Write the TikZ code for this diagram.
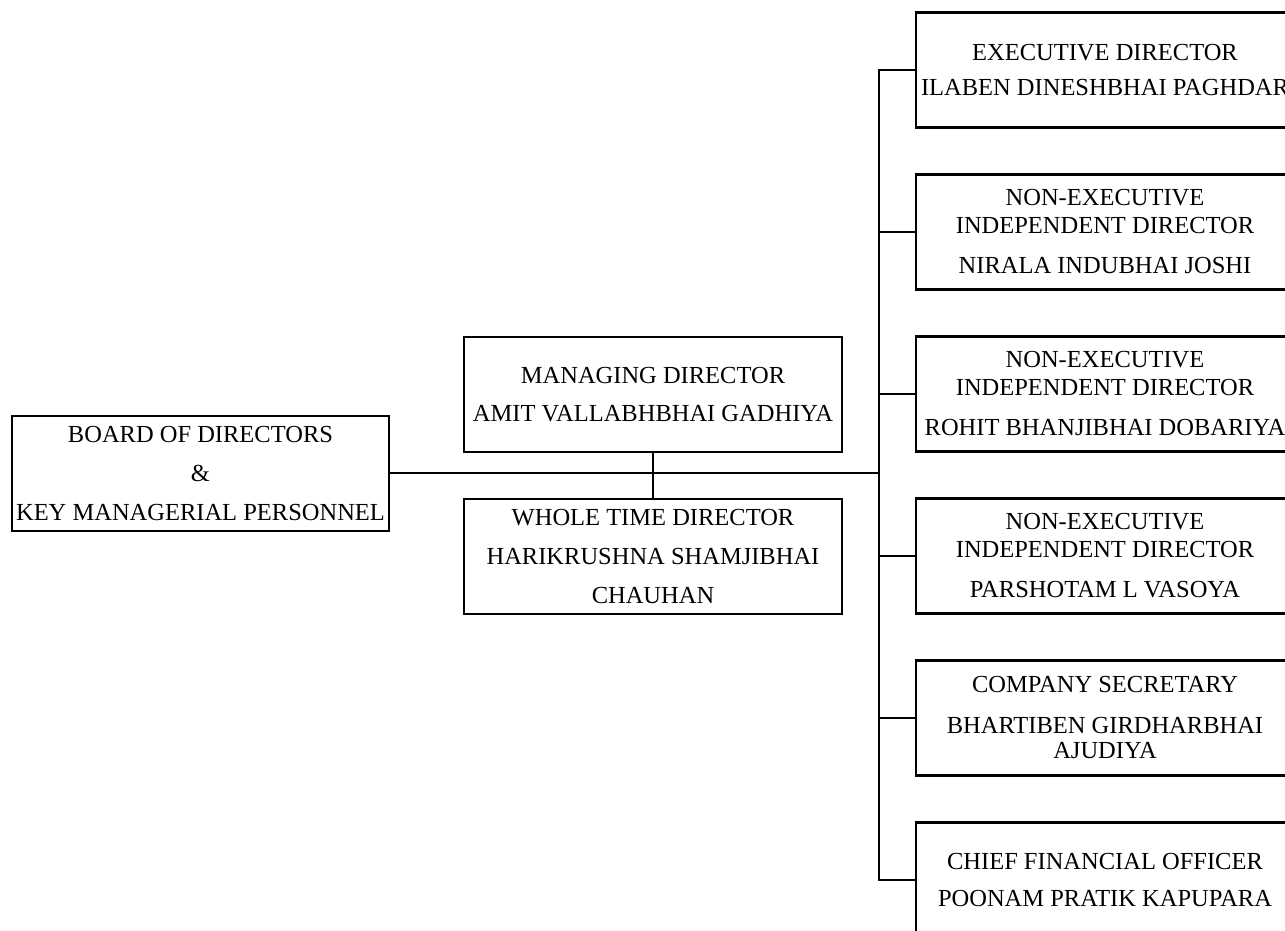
\documentclass[tikz,border=0pt]{standalone}
\usepackage{fontspec}
\setmainfont{Liberation Serif}

\tikzset{
  post/.style={draw, line width=2.2pt, rectangle, align=center,
    minimum width=378pt, minimum height=115pt, inner sep=0pt,
    font=\fontsize{24.5}{28}\selectfont},
  link/.style={line width=2.8pt}
}

\begin{document}
\begin{tikzpicture}[x=1pt, y=-1pt]
  \useasboundingbox (0,0) rectangle (1285,931);
  \clip (0,0) rectangle (1285,931);
  % left part
  \node [post, minimum width=377pt] (board) at (200.5,473.5)
    {BOARD OF DIRECTORS\\[11pt] \&\\[11pt] KEY MANAGERIAL PERSONNEL};
  \node [post] (md) at (653,394.5)
    {MANAGING DIRECTOR\\[10pt] AMIT VALLABHBHAI GADHIYA};
  \node [post] (wtd) at (653,556.5)
    {WHOLE TIME DIRECTOR\\[11pt] HARIKRUSHNA SHAMJIBHAI\\[11pt] CHAUHAN};
  % right column
  \node [post] (r1) at (1105,70)
    {EXECUTIVE DIRECTOR\\[7pt] ILABEN DINESHBHAI PAGHDAR};
  \node [post] (r2) at (1105,232)
    {NON-EXECUTIVE\\ INDEPENDENT DIRECTOR\\[12pt] NIRALA INDUBHAI JOSHI};
  \node [post] (r3) at (1105,394)
    {NON-EXECUTIVE\\ INDEPENDENT DIRECTOR\\[12pt] ROHIT BHANJIBHAI DOBARIYA};
  \node [post] (r4) at (1105,556)
    {NON-EXECUTIVE\\ INDEPENDENT DIRECTOR\\[12pt] PARSHOTAM L VASOYA};
  \node [post] (r5) at (1105,718)
    {COMPANY SECRETARY\\[13pt] BHARTIBEN GIRDHARBHAI\\[-3pt] AJUDIYA};
  \node [post] (r6) at (1105,880)
    {CHIEF FINANCIAL OFFICER\\[8pt] POONAM PRATIK KAPUPARA};
  % connectors
  \coordinate (bus) at (879,473);
  \draw [link] (board.east |- bus) -- (bus);
  \draw [link] (md) -- (wtd);
  \draw [link] (r1.west) -- (r1.west -| bus) -- (r6.west -| bus) -- (r6.west);
  \foreach \i in {2, ..., 5}
    \draw [link] (r\i.west -| bus) -- (r\i.west);
\end{tikzpicture}
\end{document}
